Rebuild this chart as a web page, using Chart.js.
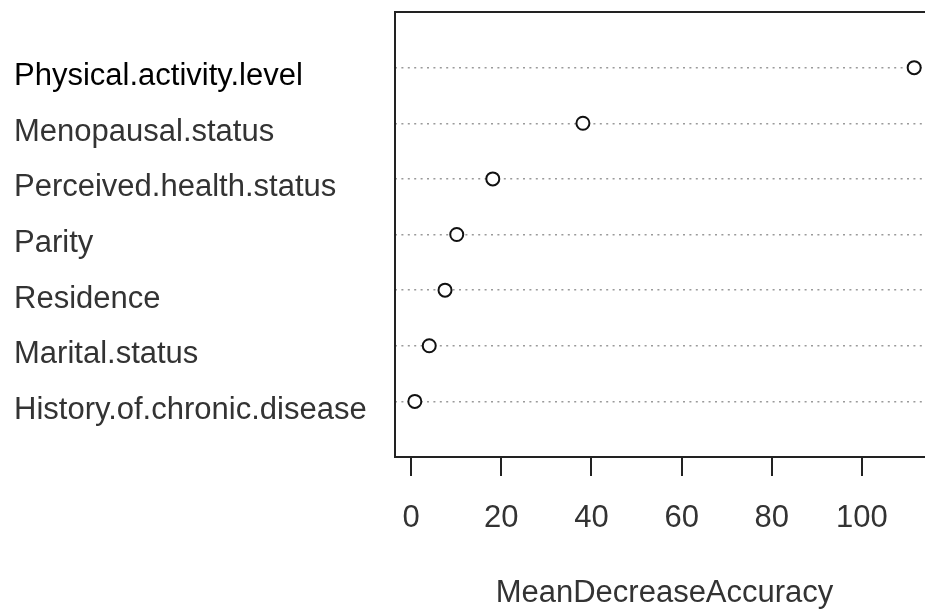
<!DOCTYPE html>
<html>
<head>
<meta charset="utf-8">
<script src="https://cdn.jsdelivr.net/npm/chart.js@4.4.1/dist/chart.umd.min.js"></script>
<style>
    html, body { margin: 0; padding: 0; background: #fff; overflow: hidden; }
    .chart-container { position: absolute; left: 0; top: 0; width: 945px; height: 609px; }
</style>
</head>
<body>
<div class="chart-container">
    <canvas id="chart"></canvas>
</div>
<script>
// variables, top to bottom as in the plot
const categories = [
    'Physical.activity.level',
    'Menopausal.status',
    'Perceived.health.status',
    'Parity',
    'Residence',
    'Marital.status',
    'History.of.chronic.disease'
];
const meanDecreaseAccuracy = [111.6, 38.1, 18.1, 10.1, 7.5, 4.0, 0.8];
const xTicks = [0, 20, 40, 60, 80, 100];
const xMin = -3.6;
const xMax = 116;

const labelFont = {
    family: "'Liberation Sans', Arial, sans-serif",
    size: 31
};

// row position (1 = bottom row, like R's dotchart)
const rowOf = (i) => categories.length - i;

// the box around the plot region
const boxPlugin = {
    id: 'box',
    beforeDatasetsDraw(chart) {
        const a = chart.chartArea;
        const ctx = chart.ctx;
        ctx.save();
        ctx.strokeStyle = '#222';
        ctx.lineWidth = 2;
        ctx.strokeRect(a.left, a.top, a.right - a.left, a.bottom - a.top);
        ctx.restore();
    }
};

const ctx = document.getElementById('chart');

new Chart(ctx, {
    type: 'scatter',
    data: {
        datasets: [{
            data: meanDecreaseAccuracy.map((v, i) => ({ x: v, y: rowOf(i) })),
            pointStyle: 'circle',
            pointRadius: 6.5,
            pointBorderWidth: 2,
            pointBorderColor: '#111',
            pointBackgroundColor: '#fff'
        }]
    },
    options: {
        responsive: true,
        maintainAspectRatio: false,
        animation: false,
        layout: {
            padding: { left: 14, top: 12, right: 11, bottom: 0 }
        },
        scales: {
            x: {
                type: 'linear',
                position: 'bottom',
                min: xMin,
                max: xMax,
                afterBuildTicks: (axis) => {
                    axis.ticks = xTicks.map(v => ({ value: v }));
                },
                afterFit: (axis) => {
                    axis.height = 152;
                    axis.paddingLeft = 0;
                    axis.paddingRight = 0;
                },
                grid: {
                    drawOnChartArea: false,
                    drawTicks: true,
                    tickLength: 19,
                    color: '#222',
                    lineWidth: 2
                },
                border: { display: false },
                ticks: {
                    font: labelFont,
                    color: '#333',
                    padding: 24,
                    maxRotation: 0
                },
                title: {
                    display: true,
                    text: 'MeanDecreaseAccuracy',
                    font: labelFont,
                    color: '#333',
                    padding: { top: 0, bottom: -3 }
                }
            },
            y: {
                type: 'linear',
                min: 0,
                max: categories.length + 1,
                afterBuildTicks: (axis) => {
                    axis.ticks = categories.map((c, i) => ({ value: rowOf(i) }));
                },
                afterFit: (axis) => {
                    axis.width = 381;
                    axis.paddingTop = 0;
                    axis.paddingBottom = 0;
                },
                grid: {
                    drawTicks: false,
                    tickLength: 0,
                    color: '#9a9a9a',
                    lineWidth: 1.5
                },
                border: {
                    display: false,
                    dash: [2, 4.4]
                },
                ticks: {
                    crossAlign: 'far',
                    padding: 0,
                    labelOffset: 9,
                    font: labelFont,
                    color: (c) => (c.tick && c.tick.value === categories.length) ? '#000' : '#333',
                    callback: (value) => categories[categories.length - value] || ''
                }
            }
        },
        plugins: {
            legend: { display: false },
            tooltip: { enabled: false }
        }
    },
    plugins: [boxPlugin]
});
</script>
</body>
</html>
